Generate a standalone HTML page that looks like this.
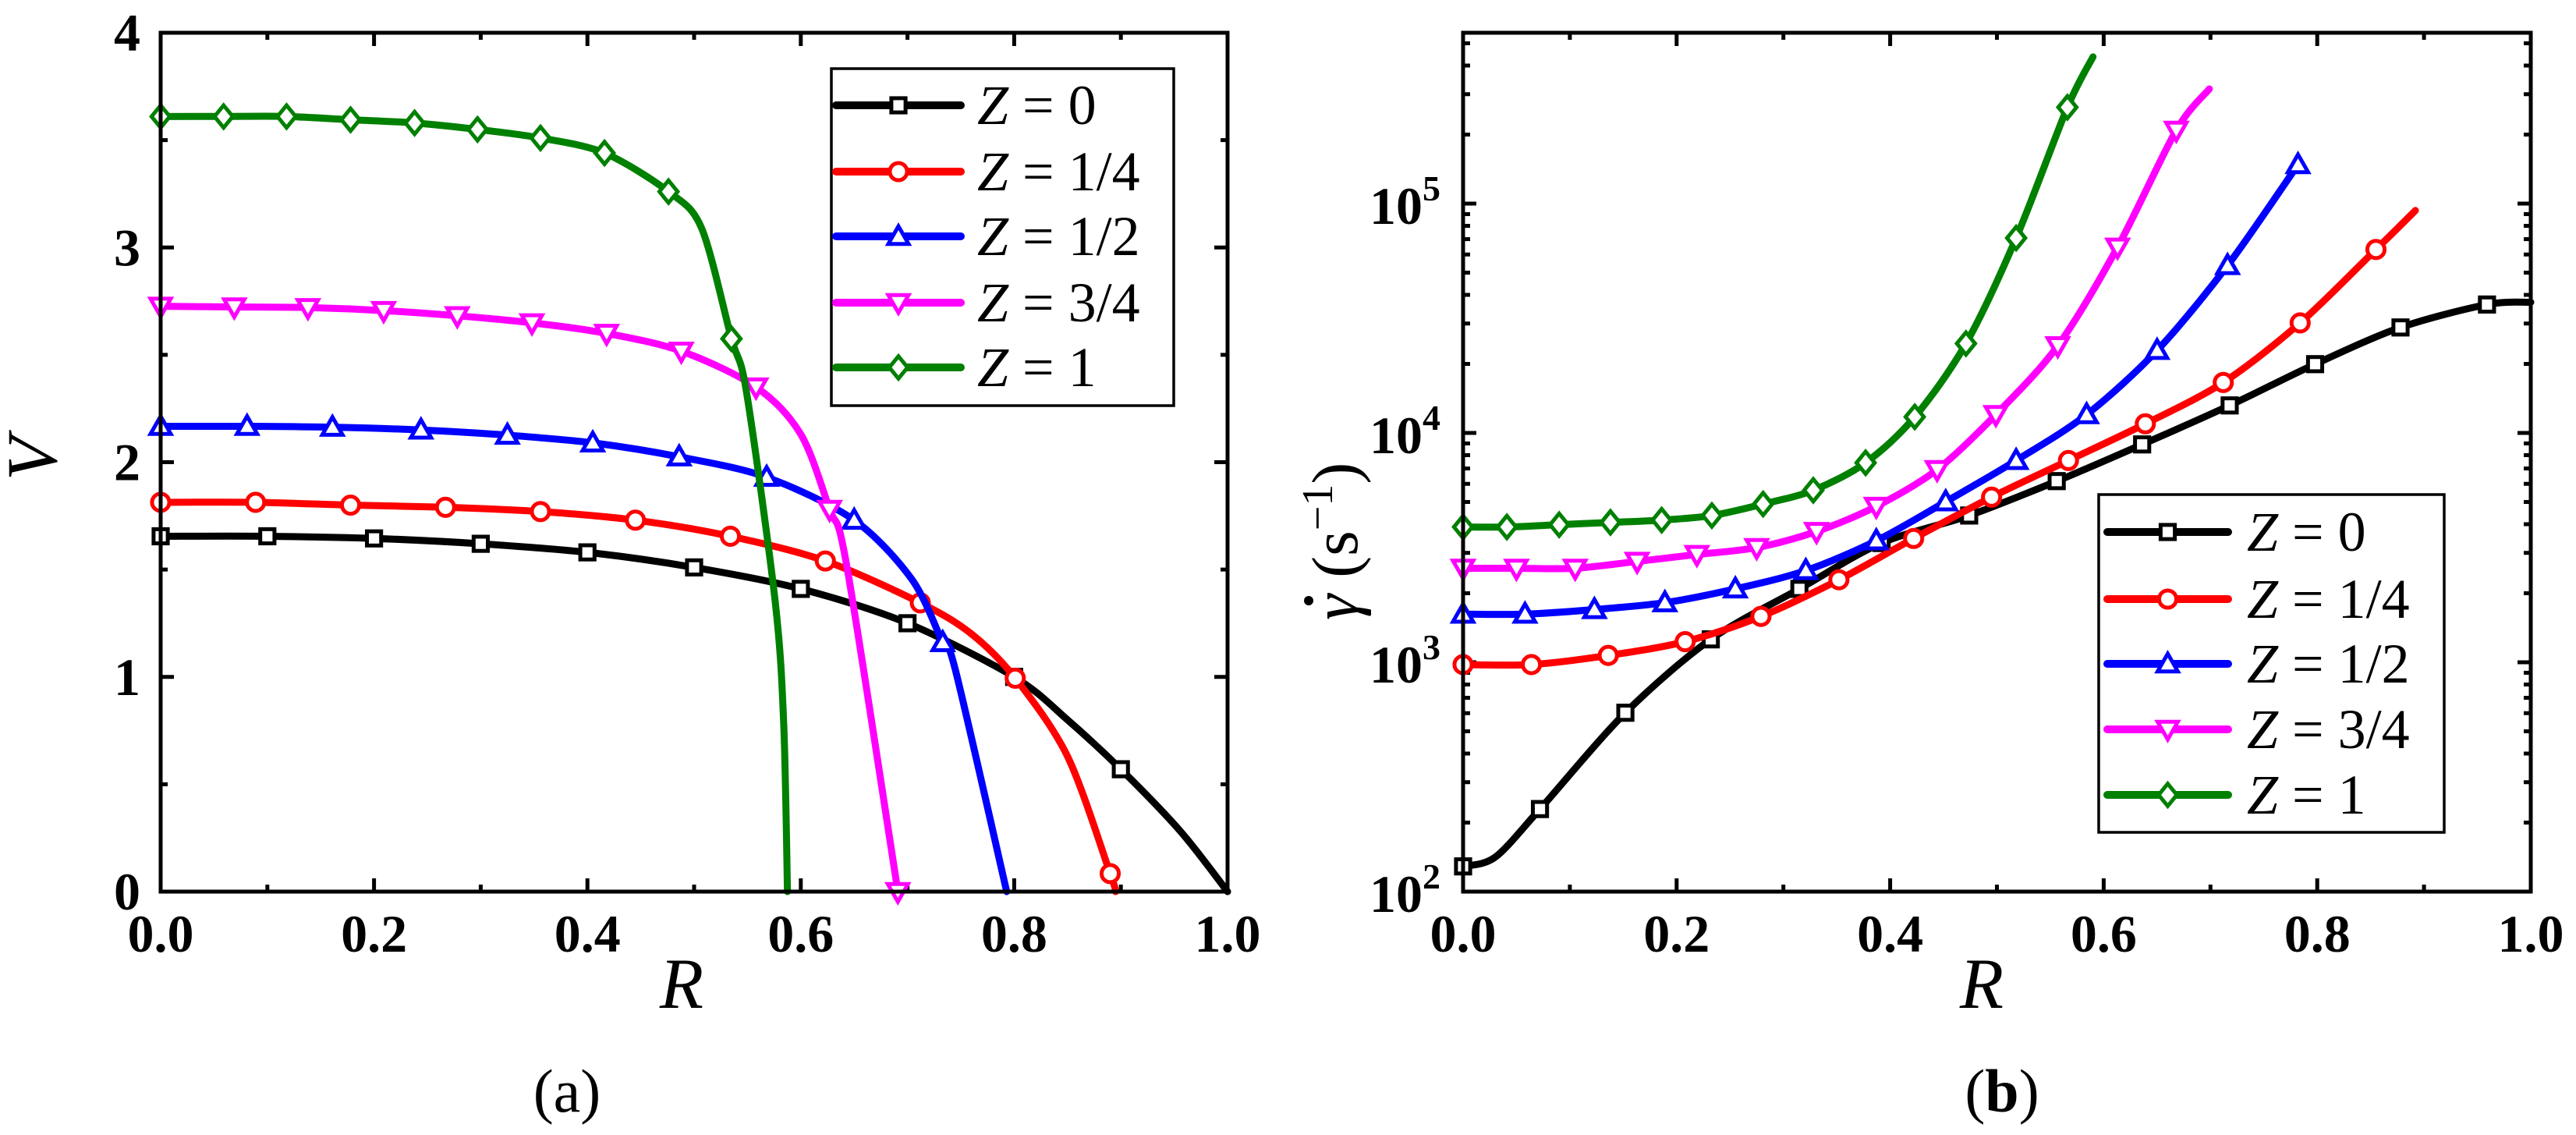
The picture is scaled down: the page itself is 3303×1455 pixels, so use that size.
<!DOCTYPE html>
<html><head><meta charset="utf-8"><style>
html,body{margin:0;padding:0;background:#fff;}
svg{display:block;}
svg text{font-family:"Liberation Serif","Times New Roman",serif;}
</style></head><body>
<svg id="fig" width="3303" height="1455" viewBox="0 0 3303 1455" xmlns="http://www.w3.org/2000/svg" font-family="Liberation Serif, serif">
<rect width="3303" height="1455" fill="#fff"/>
<g id="pa"></g>
<g id="pb"></g>
</svg>
<script>
// ---------- Panel (a) data ----------
const seriesNames = ["Z = 0","Z = 1/4","Z = 1/2","Z = 3/4","Z = 1"];
const legendFrac = ["0","1/4","1/2","3/4","1"];
const colors = ["#000000","#ff0000","#0000ff","#ff00ff","#008000"];
const markerShapes = ["square","circle","triangle","tri-down","diamond"];
const aXTicks = [0,0.2,0.4,0.6,0.8,1.0];
const aXTickLabels = ["0.0","0.2","0.4","0.6","0.8","1.0"];
const aYTicks = [0,1,2,3,4];
const aYTickLabels = ["0","1","2","3","4"];

const a0MarkR = [0,0.1,0.2,0.3,0.4,0.5,0.6,0.7,0.8,0.9];
const a0MarkV = [1.655,1.655,1.645,1.62,1.58,1.51,1.41,1.25,1.0,0.57];
const a0ExtraR = [0.85,0.956,1.0];
const a0ExtraV = [0.8,0.28,0];

const a1MarkR = [0,0.089,0.178,0.267,0.356,0.445,0.534,0.623,0.712,0.801,0.89];
const a1MarkV = [1.813,1.813,1.80,1.79,1.77,1.73,1.655,1.54,1.345,0.994,0.084];
const a1ExtraR = [0.76,0.85,0.895];
const a1ExtraV = [1.2,0.63,0];

const a2MarkR = [0,0.081,0.161,0.244,0.325,0.405,0.486,0.568,0.65,0.733];
const a2MarkV = [2.167,2.167,2.163,2.15,2.126,2.09,2.025,1.93,1.73,1.16];
const a2ExtraR = [0.704,0.745,0.793];
const a2ExtraV = [1.455,1.03,0];

const a3MarkR = [0,0.069,0.138,0.209,0.278,0.348,0.418,0.488,0.558,0.627,0.691];
const a3MarkV = [2.726,2.723,2.72,2.706,2.682,2.649,2.60,2.517,2.35,1.78,0];
const a3ExtraR = [0.6,0.643];
const a3ExtraV = [2.13,1.52];

const a4MarkR = [0,0.059,0.118,0.178,0.238,0.297,0.356,0.416,0.476,0.535];
const a4MarkV = [3.61,3.61,3.61,3.595,3.58,3.55,3.51,3.44,3.26,2.575];
const a4ExtraR = [0.507,0.549,0.576,0.584,0.5875];
const a4ExtraV = [3.09,2.33,1.35,0.78,0];

// ---------- Panel (b) data (log10 of shear rate) ----------
const bXTicks = [0,0.2,0.4,0.6,0.8,1.0];
const bXTickLabels = ["0.0","0.2","0.4","0.6","0.8","1.0"];
const bYTickExp = [2,3,4,5];

const b0MarkR = [0,0.072,0.152,0.232,0.315,0.392,0.474,0.556,0.636,0.718,0.798,0.878,0.959];
const b0MarkL = [2.11,2.36,2.78,3.10,3.32,3.52,3.64,3.79,3.95,4.12,4.30,4.46,4.56];
const b0ExtraR = [0.03,1.0];
const b0ExtraL = [2.15,4.57];

const b1MarkR = [0,0.064,0.136,0.208,0.279,0.352,0.422,0.495,0.567,0.639,0.712,0.784,0.855];
const b1MarkL = [2.99,2.99,3.03,3.09,3.20,3.36,3.54,3.72,3.88,4.04,4.22,4.48,4.80];
const b1ExtraR = [0.892];
const b1ExtraL = [4.97];

const b2MarkR = [0,0.058,0.123,0.189,0.255,0.321,0.387,0.452,0.518,0.584,0.65,0.716,0.782];
const b2MarkL = [3.21,3.21,3.23,3.26,3.32,3.40,3.53,3.70,3.88,4.08,4.36,4.73,5.17];
const b2ExtraR = [];
const b2ExtraL = [];

const b3MarkR = [0,0.05,0.105,0.163,0.219,0.275,0.331,0.387,0.444,0.499,0.557,0.613,0.668];
const b3MarkL = [3.41,3.41,3.41,3.44,3.47,3.50,3.57,3.68,3.84,4.08,4.38,4.81,5.32];
const b3ExtraR = [0.699];
const b3ExtraL = [5.50];

const b4MarkR = [0,0.041,0.09,0.138,0.186,0.233,0.281,0.328,0.377,0.423,0.471,0.518,0.566];
const b4MarkL = [3.59,3.59,3.60,3.61,3.62,3.64,3.69,3.75,3.87,4.07,4.39,4.85,5.42];
const b4ExtraR = [0.59];
const b4ExtraL = [5.64];

const NS = "http://www.w3.org/2000/svg";
const FONT = "Liberation Serif, Times New Roman, serif";
function mk(tag, attrs, parent){
  const e = document.createElementNS(NS, tag);
  for (const k in attrs) e.setAttribute(k, attrs[k]);
  if (tag==="text") e.setAttribute("font-family", FONT);
  parent.appendChild(e);
  return e;
}
const TOP = 42, BOT = 1143;

function axisA(){
  return {x0:206,x1:1574,
    sx: r => 206 + r*(1574-206),
    sy: v => BOT - v/4*(BOT-TOP)};
}
function axisB(){
  const lmin=2, lmax=5.745;
  return {x0:1876,x1:3245,
    sx: r => 1876 + r*(3245-1876),
    sy: l => BOT - (l-lmin)/(lmax-lmin)*(BOT-TOP)};
}

function curvePath(pts){
  if (pts.length<2) return "";
  let d = "M"+pts[0][0]+","+pts[0][1];
  for (let i=0;i<pts.length-1;i++){
    const p0=pts[Math.max(0,i-1)], p1=pts[i], p2=pts[i+1], p3=pts[Math.min(pts.length-1,i+2)];
    const t=0.15;
    const c1=[p1[0]+(p2[0]-p0[0])*t, p1[1]+(p2[1]-p0[1])*t];
    const c2=[p2[0]-(p3[0]-p1[0])*t, p2[1]-(p3[1]-p1[1])*t];
    d += " C"+c1[0].toFixed(1)+","+c1[1].toFixed(1)+" "+c2[0].toFixed(1)+","+c2[1].toFixed(1)+" "+p2[0].toFixed(1)+","+p2[1].toFixed(1);
  }
  return d;
}

function marker(g, shape, x, y, color, s){
  let e;
  const sw = 5;
  if (shape==="square") e = mk("rect",{x:x-s*0.7,y:y-s*0.7,width:s*1.4,height:s*1.4,fill:"#fff",stroke:color,"stroke-width":sw},g);
  else if (shape==="circle") e = mk("circle",{cx:x,cy:y,r:s*0.85,fill:"#fff",stroke:color,"stroke-width":sw},g);
  else if (shape==="triangle") e = mk("polygon",{points:`${x},${y-s} ${x-s},${y+s*0.75} ${x+s},${y+s*0.75}`,fill:"#fff",stroke:color,"stroke-width":sw},g);
  else if (shape==="tri-down") e = mk("polygon",{points:`${x},${y+s} ${x-s},${y-s*0.75} ${x+s},${y-s*0.75}`,fill:"#fff",stroke:color,"stroke-width":sw},g);
  else e = mk("polygon",{points:`${x},${y-s*1.1} ${x+s*0.9},${y} ${x},${y+s*1.1} ${x-s*0.9},${y}`,fill:"#fff",stroke:color,"stroke-width":sw},g);
  return e;
}

function drawSeries(g, ax, markR, markV, exR, exV, i, name){
  const pts = [];
  for (let k=0;k<markR.length;k++) pts.push([markR[k],markV[k]]);
  for (let k=0;k<exR.length;k++) pts.push([exR[k],exV[k]]);
  pts.sort((a,b)=>a[0]-b[0]);
  const sg = mk("g",{},g);
  
  
  const p = mk("path",{d:curvePath(pts.map(q=>[ax.sx(q[0]),ax.sy(q[1])])),fill:"none",stroke:colors[i],"stroke-width":9,"stroke-linejoin":"round","stroke-linecap":"round"},sg);
  
  
  for (let k=0;k<markR.length;k++){
    const m = marker(sg, markerShapes[i], ax.sx(markR[k]), ax.sy(markV[k]), colors[i], 13);
    
    
  }
}

function frame(g, ax, prefix){
  const f = mk("rect",{x:ax.x0,y:TOP,width:ax.x1-ax.x0,height:BOT-TOP,fill:"none",stroke:"#000","stroke-width":5},g);
  
  
}
function tick(g, x1,y1,x2,y2){
  mk("line",{x1,y1,x2,y2,stroke:"#000","stroke-width":5},g);
}

function legend(g, x, y, w, h, rowsY, lineX0, lineX1, textX, prefix){
  const lg = mk("g",{},g);
  
  
  mk("rect",{x,y,width:w,height:h,fill:"#fff",stroke:"#000","stroke-width":3.5},lg);
  for (let i=0;i<5;i++){
    const eg = mk("g",{},lg);
    
    
    const ry = rowsY[i];
    mk("line",{x1:lineX0,y1:ry,x2:lineX1,y2:ry,stroke:colors[i],"stroke-width":10,"stroke-linecap":"round"},eg);
    marker(eg, markerShapes[i], (lineX0+lineX1)/2, ry, colors[i], 13);
    const t = mk("text",{x:textX,y:ry+24,"font-size":72,fill:"#000"},eg);
    const z = mk("tspan",{"font-style":"italic"},t); z.textContent="Z";
    const r = mk("tspan",{},t); r.textContent=" = "+legendFrac[i];
  }
}

// ---------- Draw panel (a) ----------
(function(){
  const g = document.getElementById("pa");
  const ax = axisA();
  const tg = mk("g",{},g);
  
  
  for (let r=0;r<=10;r++){
    const v=r/10, x=ax.sx(v), L = r%2===0?17:9;
    tick(tg,x,BOT,x,BOT-L); tick(tg,x,TOP,x,TOP+L);
  }
  for (let k=0;k<=8;k++){
    const v=k/2, y=ax.sy(v), L=k%2===0?17:9;
    tick(tg,ax.x0,y,ax.x0+L,y); tick(tg,ax.x1,y,ax.x1-L,y);
  }
  const names=["series-z-0","series-z-1-4","series-z-1-2","series-z-3-4","series-z-1"];
  drawSeries(g,ax,a0MarkR,a0MarkV,a0ExtraR,a0ExtraV,0,"a-"+names[0]);
  drawSeries(g,ax,a1MarkR,a1MarkV,a1ExtraR,a1ExtraV,1,"a-"+names[1]);
  drawSeries(g,ax,a2MarkR,a2MarkV,a2ExtraR,a2ExtraV,2,"a-"+names[2]);
  drawSeries(g,ax,a3MarkR,a3MarkV,a3ExtraR,a3ExtraV,3,"a-"+names[3]);
  drawSeries(g,ax,a4MarkR,a4MarkV,a4ExtraR,a4ExtraV,4,"a-"+names[4]);
  frame(g,ax,"panel-a");
  for (let i=0;i<aXTicks.length;i++){
    const t = mk("text",{x:ax.sx(aXTicks[i]),y:1220,"font-size":68,"font-weight":"bold","text-anchor":"middle"},g);
    t.textContent = aXTickLabels[i];
    
    
  }
  for (let i=0;i<aYTicks.length;i++){
    const t = mk("text",{x:180,y:ax.sy(aYTicks[i])+23,"font-size":68,"font-weight":"bold","text-anchor":"end"},g);
    t.textContent = aYTickLabels[i];
    
    
  }
  const xt = mk("text",{x:874,y:1292,"font-size":92,"font-style":"italic","text-anchor":"middle"},g);
  xt.textContent="R";
  
  
  const yt = mk("text",{x:0,y:0,"font-size":92,"font-style":"italic","text-anchor":"middle",transform:"translate(72,588) rotate(-90)"},g);
  yt.textContent="V";
  
  
  const cap = mk("text",{x:727,y:1425,"font-size":78,"text-anchor":"middle"},g);
  cap.textContent="(a)";
  
  
  legend(g,1066,88,439,432,[135,220,303,388,471],1072,1232,1253,"panel-a");
})();

// ---------- Draw panel (b) ----------
(function(){
  const g = document.getElementById("pb");
  const ax = axisB();
  const tg = mk("g",{},g);
  
  
  for (let r=0;r<=10;r++){
    const x=ax.sx(r/10), L=r%2===0?17:9;
    tick(tg,x,BOT,x,BOT-L); tick(tg,x,TOP,x,TOP+L);
  }
  for (let d=2; d<=5; d++){
    for (let m=1;m<=9;m++){
      const l = d+Math.log10(m);
      if (l>5.745) continue;
      const y=ax.sy(l), L=m===1?17:9;
      tick(tg,ax.x0,y,ax.x0+L,y); tick(tg,ax.x1,y,ax.x1-L,y);
    }
  }
  const names=["series-z-0","series-z-1-4","series-z-1-2","series-z-3-4","series-z-1"];
  drawSeries(g,ax,b0MarkR,b0MarkL,b0ExtraR,b0ExtraL,0,"b-"+names[0]);
  drawSeries(g,ax,b1MarkR,b1MarkL,b1ExtraR,b1ExtraL,1,"b-"+names[1]);
  drawSeries(g,ax,b2MarkR,b2MarkL,b2ExtraR,b2ExtraL,2,"b-"+names[2]);
  drawSeries(g,ax,b3MarkR,b3MarkL,b3ExtraR,b3ExtraL,3,"b-"+names[3]);
  drawSeries(g,ax,b4MarkR,b4MarkL,b4ExtraR,b4ExtraL,4,"b-"+names[4]);
  frame(g,ax,"panel-b");
  for (let i=0;i<bXTicks.length;i++){
    const t = mk("text",{x:ax.sx(bXTicks[i]),y:1220,"font-size":68,"font-weight":"bold","text-anchor":"middle"},g);
    t.textContent = bXTickLabels[i];
    
    
  }
  for (let i=0;i<bYTickExp.length;i++){
    const y = ax.sy(bYTickExp[i]);
    const t = mk("text",{x:1824,y:y+26,"font-size":68,"font-weight":"bold","text-anchor":"end"},g);
    t.textContent = "10";
    
    
    const s = mk("text",{x:1824,y:y-4,"font-size":46,"font-weight":"bold","text-anchor":"start"},g);
    s.textContent = String(bYTickExp[i]);
    
    
  }
  const xt = mk("text",{x:2541,y:1292,"font-size":92,"font-style":"italic","text-anchor":"middle"},g);
  xt.textContent="R";
  
  
  const yg = mk("g",{transform:"translate(1740,625) rotate(-90)"},g);
  
  
  const yt = mk("text",{x:-170,y:0,"font-size":84,"text-anchor":"start"},yg);
  const t1 = mk("tspan",{"font-style":"italic"},yt); t1.textContent="γ";
  const t2 = mk("tspan",{},yt); t2.textContent="  (s";
  const t3 = mk("tspan",{"font-size":56,dy:-32},yt); t3.textContent="−1";
  const t4 = mk("tspan",{dy:32},yt); t4.textContent=")";
  const dot = mk("circle",{cx:-145,cy:-62,r:6,fill:"#000"},yg);
  
  
  const cap = mk("text",{x:2567,y:1425,"font-size":78,"text-anchor":"middle"},g);
  cap.appendChild(document.createTextNode("("));
  const bb = mk("tspan",{"font-weight":"bold"},cap); bb.textContent="b";
  cap.appendChild(document.createTextNode(")"));
  
  
  legend(g,2691,634,443,433,[682,768,851,935,1019],2702,2857,2881,"panel-b");
})();
</script>
</body></html>
